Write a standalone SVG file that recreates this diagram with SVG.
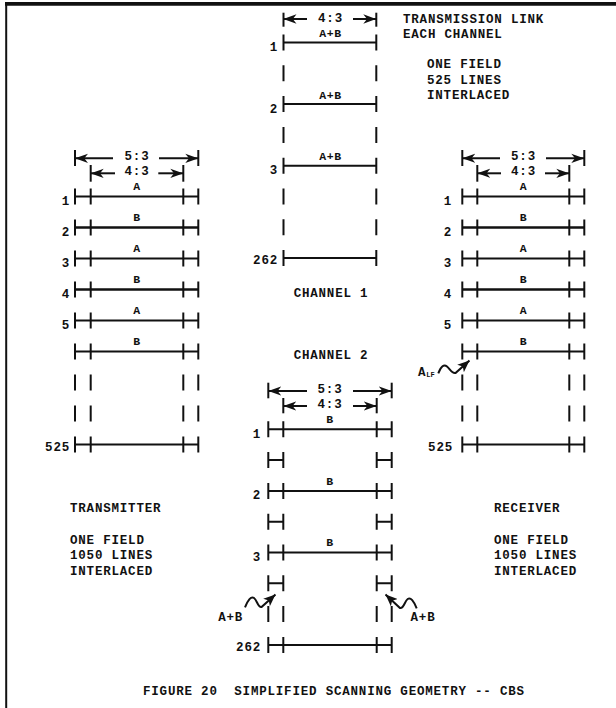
<svg xmlns="http://www.w3.org/2000/svg" width="616" height="708" viewBox="0 0 616 708">
<defs>
<style>
text{font-family:"Liberation Mono","Courier New",monospace;font-weight:bold;fill:#111;font-size:12.5px;letter-spacing:0.8px;white-space:pre}
.lab{font-size:11.5px;letter-spacing:0.6px}
.num{font-size:12.5px}
.mid{text-anchor:middle}
.end{text-anchor:end}
line,path.s{stroke:#111;stroke-width:2;fill:none}
.b{stroke-width:2.6}
.dim{stroke-width:2}
</style>
<marker id="ah" viewBox="0 0 14 10" refX="14" refY="5" markerWidth="13" markerHeight="10" markerUnits="userSpaceOnUse" orient="auto">
<path d="M0,0 L14,5 L0,10 L4,5 Z" fill="#111"/>
</marker>
<marker id="sq" viewBox="0 0 12 10" refX="12" refY="5" markerWidth="12" markerHeight="10" markerUnits="userSpaceOnUse" orient="auto">
<path d="M0,0 L12,5 L0,10 L3,5 Z" fill="#111"/>
</marker>
</defs>
<rect width="616" height="708" fill="#fff"/>
<g id="frame">
<line x1="5" y1="3" x2="616" y2="3" stroke="#999" stroke-width="1"/>
<line x1="5" y1="4.8" x2="616" y2="4.8" stroke-width="2"/>
<line x1="6.2" y1="4" x2="6.2" y2="708" stroke-width="2.4"/>
</g>

<g id="transmitter">
<line x1="75" y1="150" x2="75" y2="166"/><line x1="198.3" y1="150" x2="198.3" y2="166"/>
<line class="dim" x1="113" y1="158.3" x2="75" y2="158.3" marker-end="url(#ah)"/>
<line class="dim" x1="159" y1="158.3" x2="198.3" y2="158.3" marker-end="url(#ah)"/>
<text class="mid" x="137" y="159.5">5:3</text>
<line x1="90.7" y1="165" x2="90.7" y2="181.7"/><line x1="183.3" y1="165" x2="183.3" y2="181.7"/>
<line class="dim" x1="115" y1="173.3" x2="90.7" y2="173.3" marker-end="url(#ah)"/>
<line class="dim" x1="158.3" y1="173.3" x2="183.3" y2="173.3" marker-end="url(#ah)"/>
<text class="mid" x="137" y="175">4:3</text>
<g id="tx-lines">
<line x1="75" y1="196.5" x2="198.3" y2="196.5"/>
<line class="b" x1="75" y1="227.5" x2="198.3" y2="227.5"/>
<line x1="75" y1="258.5" x2="198.3" y2="258.5"/>
<line class="b" x1="75" y1="289.5" x2="198.3" y2="289.5"/>
<line x1="75" y1="320.5" x2="198.3" y2="320.5"/>
<line x1="75" y1="351.5" x2="198.3" y2="351.5"/>
<line x1="75" y1="444.5" x2="198.3" y2="444.5"/>
<path class="s" d="M75,188.5v16M90.7,188.5v16M183.3,188.5v16M198.3,188.5v16
M75,219.5v16M90.7,219.5v16M183.3,219.5v16M198.3,219.5v16
M75,250.5v16M90.7,250.5v16M183.3,250.5v16M198.3,250.5v16
M75,281.5v16M90.7,281.5v16M183.3,281.5v16M198.3,281.5v16
M75,312.5v16M90.7,312.5v16M183.3,312.5v16M198.3,312.5v16
M75,343.5v16M90.7,343.5v16M183.3,343.5v16M198.3,343.5v16
M75,374.5v16M90.7,374.5v16M183.3,374.5v16M198.3,374.5v16
M75,405.5v16M90.7,405.5v16M183.3,405.5v16M198.3,405.5v16
M75,436.5v16M90.7,436.5v16M183.3,436.5v16M198.3,436.5v16"/>
</g>
<text class="lab mid" x="137" y="190">A</text>
<text class="lab mid" x="137" y="221">B</text>
<text class="lab mid" x="137" y="252">A</text>
<text class="lab mid" x="137" y="283">B</text>
<text class="lab mid" x="137" y="314">A</text>
<text class="lab mid" x="137" y="345">B</text>
<text class="num end" x="70" y="205">1</text>
<text class="num end" x="70" y="236">2</text>
<text class="num end" x="70" y="267">3</text>
<text class="num end" x="70" y="298">4</text>
<text class="num end" x="70" y="329">5</text>
<text class="num end" x="70" y="451">525</text>
<text x="70" y="512">TRANSMITTER</text>
<text x="70" y="544">ONE FIELD</text>
<text x="70" y="559">1050 LINES</text>
<text x="70" y="575">INTERLACED</text>
</g>

<g id="receiver">
<line x1="462.3" y1="150" x2="462.3" y2="166"/><line x1="584.3" y1="150" x2="584.3" y2="166"/>
<line class="dim" x1="500" y1="158.3" x2="462.3" y2="158.3" marker-end="url(#ah)"/>
<line class="dim" x1="546" y1="158.3" x2="584.3" y2="158.3" marker-end="url(#ah)"/>
<text class="mid" x="523.5" y="159.5">5:3</text>
<line x1="477.3" y1="165" x2="477.3" y2="181.7"/><line x1="569.3" y1="165" x2="569.3" y2="181.7"/>
<line class="dim" x1="501" y1="173.3" x2="477.3" y2="173.3" marker-end="url(#ah)"/>
<line class="dim" x1="545" y1="173.3" x2="569.3" y2="173.3" marker-end="url(#ah)"/>
<text class="mid" x="523.5" y="175">4:3</text>
<g id="rx-lines">
<line x1="462.3" y1="196.5" x2="584.3" y2="196.5"/>
<line class="b" x1="462.3" y1="227.5" x2="584.3" y2="227.5"/>
<line x1="462.3" y1="258.5" x2="584.3" y2="258.5"/>
<line class="b" x1="462.3" y1="289.5" x2="584.3" y2="289.5"/>
<line x1="462.3" y1="320.5" x2="584.3" y2="320.5"/>
<line x1="462.3" y1="351.5" x2="584.3" y2="351.5"/>
<line x1="462.3" y1="444.5" x2="584.3" y2="444.5"/>
<path class="s" d="M462.3,188.5v16M477.3,188.5v16M569.3,188.5v16M584.3,188.5v16
M462.3,219.5v16M477.3,219.5v16M569.3,219.5v16M584.3,219.5v16
M462.3,250.5v16M477.3,250.5v16M569.3,250.5v16M584.3,250.5v16
M462.3,281.5v16M477.3,281.5v16M569.3,281.5v16M584.3,281.5v16
M462.3,312.5v16M477.3,312.5v16M569.3,312.5v16M584.3,312.5v16
M462.3,343.5v16M477.3,343.5v16M569.3,343.5v16M584.3,343.5v16
M462.3,374.5v16M477.3,374.5v16M569.3,374.5v16M584.3,374.5v16
M462.3,405.5v16M477.3,405.5v16M569.3,405.5v16M584.3,405.5v16
M462.3,436.5v16M477.3,436.5v16M569.3,436.5v16M584.3,436.5v16"/>
</g>
<text class="lab mid" x="523.5" y="190">A</text>
<text class="lab mid" x="523.5" y="221">B</text>
<text class="lab mid" x="523.5" y="252">A</text>
<text class="lab mid" x="523.5" y="283">B</text>
<text class="lab mid" x="523.5" y="314">A</text>
<text class="lab mid" x="523.5" y="345">B</text>
<text class="num end" x="452" y="205">1</text>
<text class="num end" x="452" y="236">2</text>
<text class="num end" x="452" y="267">3</text>
<text class="num end" x="452" y="298">4</text>
<text class="num end" x="452" y="329">5</text>
<text class="num end" x="453" y="451">525</text>
<text x="418" y="376">A<tspan font-size="7" letter-spacing="0" dy="1">LF</tspan></text>
<text x="494" y="512">RECEIVER</text>
<text x="494" y="544">ONE FIELD</text>
<text x="494" y="559">1050 LINES</text>
<text x="494" y="575">INTERLACED</text>
</g>

<g id="channel1">
<line x1="283.5" y1="12.7" x2="283.5" y2="26.7"/><line x1="376.3" y1="12.7" x2="376.3" y2="26.7"/>
<line class="dim" x1="307" y1="19" x2="283.5" y2="19" marker-end="url(#ah)"/>
<line class="dim" x1="353" y1="19" x2="376.3" y2="19" marker-end="url(#ah)"/>
<text class="mid" x="330.5" y="22">4:3</text>
<line x1="283.5" y1="42.5" x2="376.3" y2="42.5"/>
<line x1="283.5" y1="104.1" x2="376.3" y2="104.1"/>
<line x1="283.5" y1="165.7" x2="376.3" y2="165.7"/>
<line x1="283.5" y1="258.1" x2="376.3" y2="258.1"/>
<path class="s" d="M283.5,34.5v16M376.3,34.5v16M283.5,65.3v16M376.3,65.3v16
M283.5,96.1v16M376.3,96.1v16M283.5,126.9v16M376.3,126.9v16
M283.5,157.7v16M376.3,157.7v16M283.5,188.5v16M376.3,188.5v16
M283.5,219.3v16M376.3,219.3v16M283.5,250.1v16M376.3,250.1v16"/>
<text class="lab mid" x="330.5" y="37">A+B</text>
<text class="lab mid" x="330.5" y="98.5">A+B</text>
<text class="lab mid" x="330.5" y="160">A+B</text>
<text class="num end" x="278" y="51">1</text>
<text class="num end" x="278" y="112.5">2</text>
<text class="num end" x="278" y="174">3</text>
<text class="num end" x="278" y="264">262</text>
<text class="mid" x="331" y="297">CHANNEL 1</text>
<text x="403" y="22.5">TRANSMISSION LINK</text>
<text x="403" y="37.5">EACH CHANNEL</text>
<text x="427" y="67.5">ONE FIELD</text>
<text x="427" y="83.5">525 LINES</text>
<text x="427" y="98.5">INTERLACED</text>
</g>

<g id="channel2">
<text class="mid" x="331" y="359">CHANNEL 2</text>
<line x1="268.3" y1="382.7" x2="268.3" y2="398.3"/><line x1="391.7" y1="382.7" x2="391.7" y2="398.3"/>
<line class="dim" x1="307" y1="391" x2="268.3" y2="391" marker-end="url(#ah)"/>
<line class="dim" x1="353" y1="391" x2="391.7" y2="391" marker-end="url(#ah)"/>
<text class="mid" x="330" y="392.5">5:3</text>
<line x1="283.3" y1="398" x2="283.3" y2="413.3"/><line x1="376.7" y1="398" x2="376.7" y2="413.3"/>
<line class="dim" x1="307" y1="406" x2="283.3" y2="406" marker-end="url(#ah)"/>
<line class="dim" x1="353" y1="406" x2="376.7" y2="406" marker-end="url(#ah)"/>
<text class="mid" x="330" y="408">4:3</text>
<line x1="268.3" y1="429.3" x2="391.7" y2="429.3"/>
<line x1="268.3" y1="490.9" x2="391.7" y2="490.9"/>
<line x1="268.3" y1="552.5" x2="391.7" y2="552.5"/>
<line x1="268.3" y1="644.9" x2="391.7" y2="644.9"/>
<path class="s" d="M268.3,460.1h15M376.7,460.1h15M268.3,521.7h15M376.7,521.7h15M268.3,583.3h15M376.7,583.3h15"/>
<path class="s" d="M268.3,421.3v16M283.3,421.3v16M376.7,421.3v16M391.7,421.3v16
M268.3,452.1v16M283.3,452.1v16M376.7,452.1v16M391.7,452.1v16
M268.3,482.9v16M283.3,482.9v16M376.7,482.9v16M391.7,482.9v16
M268.3,513.7v16M283.3,513.7v16M376.7,513.7v16M391.7,513.7v16
M268.3,544.5v16M283.3,544.5v16M376.7,544.5v16M391.7,544.5v16
M268.3,575.3v16M283.3,575.3v16M376.7,575.3v16M391.7,575.3v16
M268.3,606.1v16M283.3,606.1v16M376.7,606.1v16M391.7,606.1v16
M268.3,636.9v16M283.3,636.9v16M376.7,636.9v16M391.7,636.9v16"/>
<text class="lab mid" x="330" y="423">B</text>
<text class="lab mid" x="330" y="484.5">B</text>
<text class="lab mid" x="330" y="546">B</text>
<text class="num end" x="261" y="437.5">1</text>
<text class="num end" x="261" y="499">2</text>
<text class="num end" x="261" y="560.5">3</text>
<text class="num end" x="261" y="651">262</text>
<text class="mid" x="230.7" y="621">A+B</text>
<text class="mid" x="423" y="621">A+B</text>
</g>

<g id="connectors">
<path class="s" d="M438.3,373.3 C441,366 444,364 447,366.5 S452,374 455.5,373 L469.5,360.5" marker-end="url(#sq)"/>
<path class="s" d="M245,607.3 C248,600 251,596 254,598 S258,608 261.5,607 L275.5,594.5" marker-end="url(#sq)"/>
<path class="s" d="M416.7,608.3 C413.7,601 410.7,597 407.7,599 S403.7,609 400,608 L385.5,594.5" marker-end="url(#sq)"/>
</g>

<g id="caption">
<text x="143" y="695">FIGURE 20  SIMPLIFIED SCANNING GEOMETRY -- CBS</text>
</g>
</svg>
